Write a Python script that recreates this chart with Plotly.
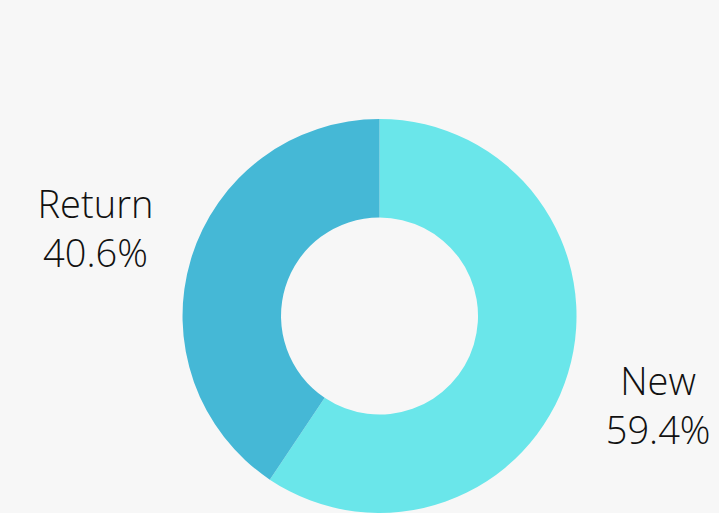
import plotly.graph_objects as go

labels = ["New", "Return"]
values = [59.4, 40.6]
colors = ["#6ae6ea", "#45b8d6"]

# label text per slice; a non-breaking blank line nudges each label away from the horizontal
templates = [
    "\u00a0<br>%{label}<br>%{percent:.1%}",
    "%{label}<br>%{percent:.1%}<br>\u00a0",
]

fig = go.Figure(go.Pie(
    labels=labels,
    values=values,
    hole=0.5,
    sort=False,
    direction="clockwise",
    rotation=0,
    marker=dict(colors=colors, line=dict(width=0)),
    textposition="outside",
    texttemplate=templates,
    textfont=dict(family="Open Sans", size=38, color="#111111", weight=300),
    showlegend=False,
    hoverinfo="label+percent",
    domain=dict(x=[0.0557, 1.0], y=[0.0, 0.768]),
    automargin=False,
))

fig.update_layout(
    width=719,
    height=513,
    paper_bgcolor="#f7f7f7",
    plot_bgcolor="#f7f7f7",
    margin=dict(l=0, r=0, t=0, b=0, autoexpand=False),
)

fig.write_html(
    "out.html",
    config={"displayModeBar": False},
    post_script="document.body.style.margin='0';document.body.style.background='#f7f7f7';",
)
